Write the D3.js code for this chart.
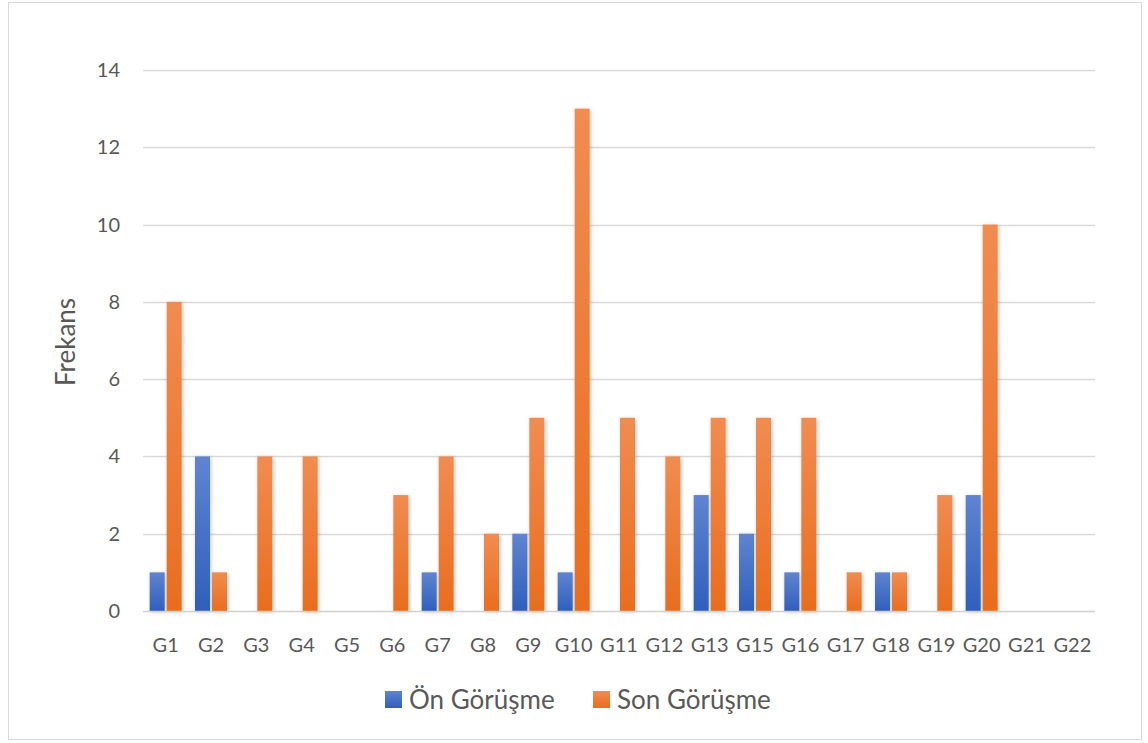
<!DOCTYPE html>
<html>
<head>
<meta charset="utf-8">
<script src="https://cdn.jsdelivr.net/npm/d3@7"></script>
<style>
  html, body { margin: 0; padding: 0; background: #fff; }
  svg { display: block; font-family: Lato, "Open Sans", sans-serif; }
</style>
</head>
<body>
<svg id="chart" width="1148" height="743"></svg>
<script>
// Categories (G14 is absent in the source data)
const categories = ["G1","G2","G3","G4","G5","G6","G7","G8","G9","G10","G11",
                    "G12","G13","G15","G16","G17","G18","G19","G20","G21","G22"];
const onGorusme  = [1,4,0,0,0,0,1,0,2,1,0,0,3,2,1,0,1,0,3,0,0];
const sonGorusme = [8,1,4,4,0,3,4,2,5,13,5,4,5,5,5,1,1,3,10,0,0];
const seriesNames = ["Ön Görüşme", "Son Görüşme"];
const yTicks = [0,2,4,6,8,10,12,14];

const svg = d3.select("#chart");
const W = 1148, H = 743;
const margin = { left: 143, right: 53, top: 70, bottom: 132 };

// Gradients and soft shadow for the bars
const defs = svg.append("defs");
const grad = (id, top, bottom) => {
  const g = defs.append("linearGradient").attr("id", id)
    .attr("x1", 0).attr("y1", 0).attr("x2", 0).attr("y2", 1);
  g.append("stop").attr("offset", "0%").attr("stop-color", top);
  g.append("stop").attr("offset", "100%").attr("stop-color", bottom);
};
grad("gBlue", "#5f84d0", "#2f5fbd");
grad("gOrange", "#f18c50", "#e96d1e");
const f = defs.append("filter").attr("id", "shadow")
  .attr("x", "-40%").attr("y", "-10%").attr("width", "180%").attr("height", "120%");
f.append("feDropShadow").attr("dx", 1).attr("dy", 1).attr("stdDeviation", 2)
  .attr("flood-color", "#000").attr("flood-opacity", 0.22);

// Outer frame
svg.append("rect").attr("x", 8.5).attr("y", 2.5).attr("width", 1133).attr("height", 737)
  .attr("fill", "#fff").attr("stroke", "#d9d9d9").attr("stroke-width", 1);

const x = d3.scaleBand().domain(categories)
  .range([margin.left, W - margin.right]).paddingInner(0).paddingOuter(0);
const y = d3.scaleLinear().domain([0, 14]).range([H - margin.bottom, margin.top]);

// Horizontal gridlines
svg.append("g").selectAll("line").data(yTicks.filter(d => d > 0)).join("line")
  .attr("x1", x.range()[0]).attr("x2", x.range()[1])
  .attr("y1", d => Math.round(y(d)) + 0.5).attr("y2", d => Math.round(y(d)) + 0.5)
  .attr("stroke", "#d9d9d9").attr("stroke-width", 1.3);

// Y tick labels
svg.append("g").selectAll("text").data(yTicks).join("text")
  .attr("x", 120).attr("y", d => y(d)).attr("dy", "0.35em")
  .attr("text-anchor", "end").attr("font-size", 20).attr("fill", "#595959")
  .text(d => d);

// Bars: two per category, placed either side of the category centre
const barW = 15, gap = 2;
const rows = categories.map((c, i) => ({ c, vals: [onGorusme[i], sonGorusme[i]] }));
const fills = ["url(#gBlue)", "url(#gOrange)"];
const groups = svg.append("g").selectAll("g").data(rows).join("g")
  .attr("transform", d => `translate(${x(d.c) + x.bandwidth() / 2},0)`);
groups.selectAll("rect").data(d => d.vals.map((v, s) => ({ v, s })).filter(e => e.v > 0))
  .join("rect")
  .attr("x", e => e.s === 0 ? -barW - gap / 2 : gap / 2)
  .attr("width", barW)
  .attr("y", e => y(e.v))
  .attr("height", e => y(0) - y(e.v))
  .attr("fill", e => fills[e.s])
  .attr("filter", "url(#shadow)");

// Baseline
svg.append("line")
  .attr("x1", x.range()[0]).attr("x2", x.range()[1])
  .attr("y1", Math.round(y(0)) + 0.5).attr("y2", Math.round(y(0)) + 0.5)
  .attr("stroke", "#d0d0d0").attr("stroke-width", 1.5);

// X category labels
svg.append("g").selectAll("text").data(categories).join("text")
  .attr("x", d => x(d) + x.bandwidth() / 2).attr("y", 652)
  .attr("text-anchor", "middle").attr("font-size", 20).attr("fill", "#595959")
  .text(d => d);

// Y axis title
svg.append("text")
  .attr("transform", "translate(75,342) rotate(-90)")
  .attr("text-anchor", "middle").attr("font-size", 26).attr("fill", "#595959")
  .text("Frekans");

// Legend
const legend = svg.append("g");
const legendItems = [
  { name: seriesNames[0], fill: fills[0], x: 385 },
  { name: seriesNames[1], fill: fills[1], x: 593 }
];
const li = legend.selectAll("g").data(legendItems).join("g")
  .attr("transform", d => `translate(${d.x},691)`);
li.append("rect").attr("width", 17).attr("height", 17).attr("fill", d => d.fill);
li.append("text").attr("x", 24).attr("y", 9).attr("dy", "0.36em")
  .attr("font-size", 26).attr("fill", "#595959").text(d => d.name);
</script>
</body>
</html>
